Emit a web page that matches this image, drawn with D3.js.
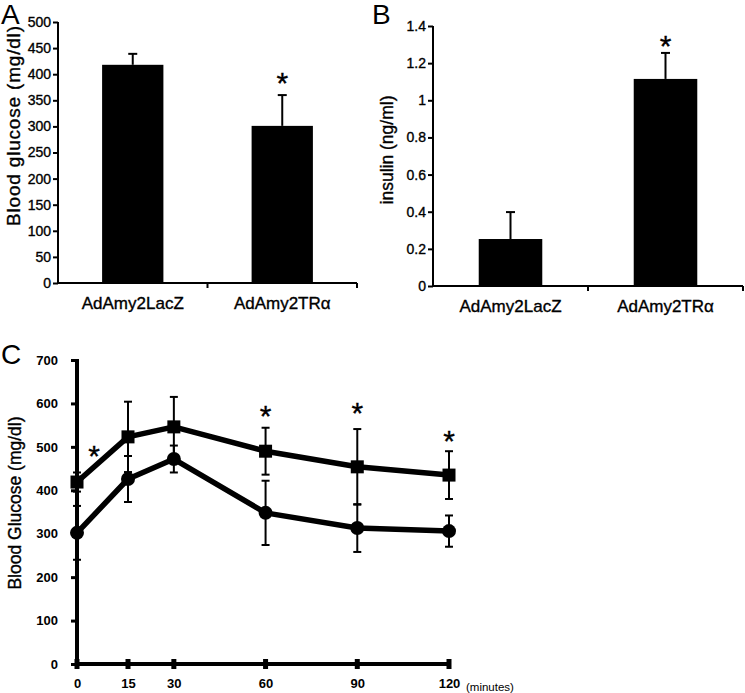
<!DOCTYPE html>
<html>
<head>
<meta charset="utf-8">
<script src="https://cdn.jsdelivr.net/npm/d3@7"></script>
<style>
  html, body { margin: 0; padding: 0; background: #fff; }
  svg { display: block; }
  text { font-family: Arial, "Liberation Sans", Helvetica, sans-serif; fill: #000; }
  .heavy { stroke: #000; stroke-width: 0.35px; }
</style>
</head>
<body>
<svg id="chart" width="745" height="693"></svg>
<script>
// ---------- DATA ----------
const categoriesAB = ["AdAmy2LacZ", "AdAmy2TRα"];

const glucoseA = [418, 301];
const glucoseErrA = [21, 59];
const glucoseTicksA = [0, 50, 100, 150, 200, 250, 300, 350, 400, 450, 500];
const starA = [{ cat: "AdAmy2TRα", value: 398 }];

const insulinB = [0.253, 1.115];
const insulinErrB = [0.145, 0.14];
const insulinTicksB = [0, 0.2, 0.4, 0.6, 0.8, 1, 1.2, 1.4];
const starB = [{ cat: "AdAmy2TRα", value: 1.33 }];

const timesC = [0, 15, 30, 60, 90, 120];
const squaresC = [419, 523, 546, 490, 454, 435];
const squaresErrC = [22, 81, 69, 54, 87, 55];
const circlesC = [302, 426, 472, 348, 313, 306];
const circlesErrC = [62, 53, 31, 74, 55, 36];
const glucoseTicksC = [0, 100, 200, 300, 400, 500, 600, 700];
const starsC = [{ t: 5, value: 497 }, { t: 60, value: 587 }, { t: 90, value: 594 }, { t: 120, value: 530 }];

// ---------- DRAW ----------
const svg = d3.select("#chart");
const FONT = 'Arial, "Liberation Sans", Helvetica, sans-serif';

function star(g, x, y, fs) {
  g.append("text").attr("x", x).attr("y", y + 0.58 * fs)
    .attr("text-anchor", "middle").attr("class", "heavy").style("font-size", fs + "px").text("*");
}

function barPanel(opts) {
  const g = svg.append("g");
  const x = d3.scaleBand().domain(categoriesAB).range([opts.x0, opts.x1]).padding(0);
  const y = d3.scaleLinear().domain(opts.domain).range([opts.y0, opts.y1]);

  // bars
  const bw = x.bandwidth() * 0.41;
  g.selectAll("rect.bar").data(categoriesAB).join("rect")
    .attr("x", d => x(d) + x.bandwidth() / 2 - bw / 2)
    .attr("y", (d, i) => y(opts.values[i]))
    .attr("width", bw)
    .attr("height", (d, i) => y(0) - y(opts.values[i]))
    .attr("fill", "#000");

  // error bars (upward)
  categoriesAB.forEach((c, i) => {
    const cx = x(c) + x.bandwidth() / 2;
    g.append("line").attr("x1", cx).attr("x2", cx)
      .attr("y1", y(opts.values[i])).attr("y2", y(opts.values[i] + opts.errs[i]))
      .attr("stroke", "#000").attr("stroke-width", 2);
    g.append("line").attr("x1", cx - 4.5).attr("x2", cx + 4.5)
      .attr("y1", y(opts.values[i] + opts.errs[i])).attr("y2", y(opts.values[i] + opts.errs[i]))
      .attr("stroke", "#000").attr("stroke-width", 2);
  });

  // y axis
  const ya = d3.axisLeft(y).tickValues(opts.ticks).tickSize(5).tickPadding(2)
    .tickFormat(d3.format("~g"));
  const yg = g.append("g").attr("transform", `translate(${opts.x0},0)`).call(ya);
  yg.select(".domain").attr("stroke-width", 2).attr("d", `M0,${opts.y0 + 1}V${opts.y1}`);
  yg.selectAll(".tick line").attr("stroke-width", 2);
  yg.selectAll(".tick text").attr("class", "heavy").style("font-size", "14px").style("font-family", FONT);

  // x axis
  const xa = d3.axisBottom(x).tickSize(0).tickPadding(0).tickFormat("");
  const xg = g.append("g").attr("transform", `translate(0,${opts.y0})`).call(xa);
  xg.select(".domain").attr("stroke-width", 2).attr("d", `M${opts.x0},0H${opts.x1}`);
  const bounds = [x.range()[0] + x.step(), x.range()[1]];
  bounds.forEach(b => {
    g.append("line").attr("x1", b).attr("x2", b).attr("y1", opts.y0).attr("y2", opts.y0 + 5)
      .attr("stroke", "#000").attr("stroke-width", 2);
  });
  // category labels
  g.selectAll("text.cat").data(categoriesAB).join("text")
    .attr("x", d => x(d) + x.bandwidth() / 2)
    .attr("y", opts.y0 + 26)
    .attr("text-anchor", "middle").attr("class", "heavy").style("font-size", "17px").text(d => d);

  // y title
  const tt = g.append("text")
    .attr("transform", `translate(${opts.titleX},${opts.titleY}) rotate(-90)`)
    .attr("text-anchor", "middle").attr("class", "heavy")
    .style("font-size", opts.titleSize + "px").text(opts.title);
  if (opts.titleLen) tt.attr("textLength", opts.titleLen).attr("lengthAdjust", "spacing");

  // panel letter
  g.append("text").attr("x", opts.letterX).attr("y", 24)
    .style("font-size", "28px").text(opts.letter);

  // stars
  opts.stars.forEach(s => star(g, x(s.cat) + x.bandwidth() / 2, y(s.value), 30));
}

barPanel({
  x0: 58, x1: 357, y0: 283, y1: 22, domain: [0, 500],
  values: glucoseA, errs: glucoseErrA, ticks: glucoseTicksA,
  title: "Blood glucose (mg/dl)", titleX: 20, titleY: 126, titleSize: 19, titleLen: 200,
  letter: "A", letterX: 1, stars: starA
});

barPanel({
  x0: 433, x1: 743, y0: 286, y1: 26, domain: [0, 1.4],
  values: insulinB, errs: insulinErrB, ticks: insulinTicksB,
  title: "insulin (ng/ml)", titleX: 393, titleY: 150, titleSize: 17.5,
  letter: "B", letterX: 372, stars: starB
});

// ---------- PANEL C ----------
(function () {
  const g = svg.append("g");
  const x = d3.scaleLinear().domain([0, 15, 120]).range([77, 128, 449]);
  const y = d3.scaleLinear().domain([0, 700]).range([664, 360]);

  // y axis
  const ya = d3.axisLeft(y).tickValues(glucoseTicksC).tickSize(6).tickPadding(13);
  const yg = g.append("g").attr("transform", "translate(77,0)").call(ya);
  yg.select(".domain").attr("stroke-width", 4).attr("d", "M0,666V359");
  yg.selectAll(".tick line").attr("stroke-width", 3);
  yg.selectAll(".tick text").style("font-size", "13px").style("font-weight", "bold").style("font-family", FONT);

  // x axis
  const xa = d3.axisBottom(x).tickValues(timesC).tickSize(0).tickPadding(15);
  const xg = g.append("g").attr("transform", "translate(0,664)").call(xa);
  xg.select(".domain").attr("stroke-width", 4).attr("d", "M75,0H451");
  xg.selectAll(".tick text").style("font-size", "13px").style("font-weight", "bold").style("font-family", FONT);
  timesC.forEach(t => {
    g.append("rect").attr("x", x(t) - 2.5).attr("y", 659).attr("width", 5).attr("height", 10).attr("fill", "#000");
  });
  g.append("text").attr("x", 466).attr("y", 691).style("font-size", "11.5px").text("(minutes)");

  // y title
  g.append("text").attr("transform", "translate(21,503) rotate(-90)")
    .attr("text-anchor", "middle").attr("class", "heavy").style("font-size", "17.5px").text("Blood Glucose (mg/dl)");

  // letter
  g.append("text").attr("x", 1).attr("y", 364).style("font-size", "28px").text("C");

  // error bars
  function errBars(vals, errs) {
    timesC.forEach((t, i) => {
      const cx = x(t);
      const yt = y(vals[i] + errs[i]), yb = y(vals[i] - errs[i]);
      g.append("line").attr("x1", cx).attr("x2", cx).attr("y1", yt).attr("y2", yb)
        .attr("stroke", "#000").attr("stroke-width", 2);
      [yt, yb].forEach(yy => g.append("line").attr("x1", cx - 4).attr("x2", cx + 4)
        .attr("y1", yy).attr("y2", yy).attr("stroke", "#000").attr("stroke-width", 2));
    });
  }
  errBars(squaresC, squaresErrC);
  errBars(circlesC, circlesErrC);

  const line = d3.line().x(d => x(d[0])).y(d => y(d[1]));
  g.append("path").datum(timesC.map((t, i) => [t, squaresC[i]])).attr("d", line)
    .attr("fill", "none").attr("stroke", "#000").attr("stroke-width", 5.5).attr("stroke-linejoin", "round");
  g.append("path").datum(timesC.map((t, i) => [t, circlesC[i]])).attr("d", line)
    .attr("fill", "none").attr("stroke", "#000").attr("stroke-width", 5.5).attr("stroke-linejoin", "round");

  // markers
  g.selectAll("rect.sq").data(timesC).join("rect")
    .attr("x", (d) => x(d) - 6.5).attr("y", (d, i) => y(squaresC[i]) - 6.5)
    .attr("width", 13).attr("height", 13).attr("fill", "#000");
  g.selectAll("circle.ci").data(timesC).join("circle")
    .attr("cx", d => x(d)).attr("cy", (d, i) => y(circlesC[i])).attr("r", 7).attr("fill", "#000");

  // stars
  starsC.forEach(s => star(g, x(s.t), y(s.value), 30));
})();
</script>
</body>
</html>
